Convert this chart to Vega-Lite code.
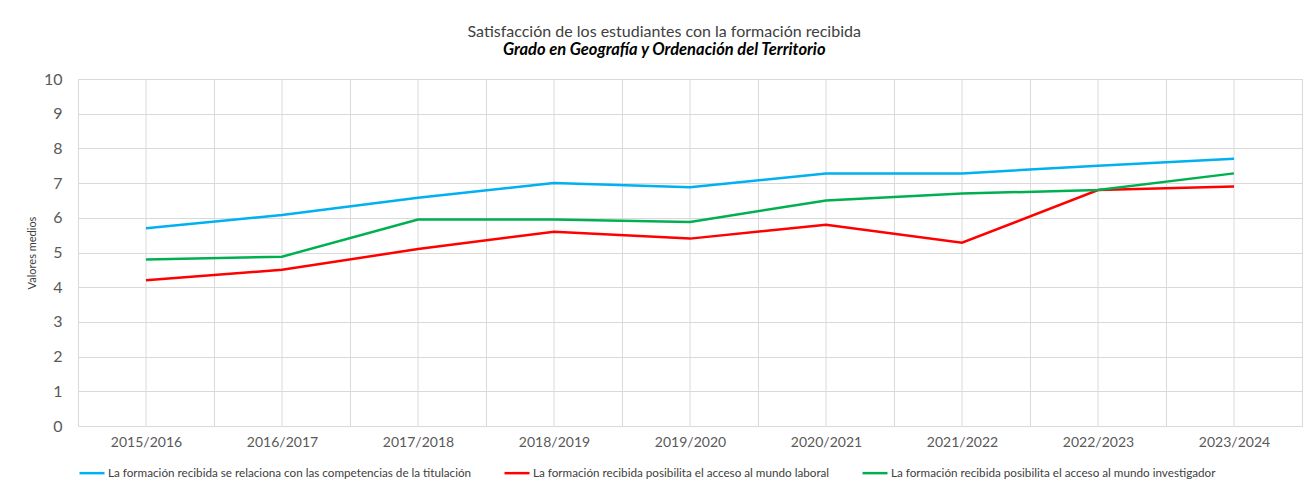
{
  "$schema": "https://vega.github.io/schema/vega-lite/v6.json",
  "autosize": {"type": "none"},
  "width": 1224,
  "height": 347,
  "padding": {"left": 78, "top": 79, "right": 2, "bottom": 58},
  "background": "white",
  "title": {
    "text": "Satisfacción de los estudiantes con la formación recibida",
    "subtitle": "Grado en Geografía y Ordenación del Territorio",
    "anchor": "middle",
    "frame": "bounds",
    "font": "Lato",
    "fontSize": 16,
    "fontWeight": "normal",
    "color": "#404040",
    "subtitleFont": "Lato",
    "subtitleFontSize": 16.5,
    "subtitleFontWeight": "bold",
    "subtitleFontStyle": "italic",
    "subtitleColor": "#000000",
    "subtitlePadding": 2,
    "offset": 13
  },
  "data": {
    "values": [
      {"curso": "2015/2016", "serie": "La formación recibida se relaciona con las competencias de la titulación", "valor": 5.7},
      {"curso": "2016/2017", "serie": "La formación recibida se relaciona con las competencias de la titulación", "valor": 6.08},
      {"curso": "2017/2018", "serie": "La formación recibida se relaciona con las competencias de la titulación", "valor": 6.58},
      {"curso": "2018/2019", "serie": "La formación recibida se relaciona con las competencias de la titulación", "valor": 7.0},
      {"curso": "2019/2020", "serie": "La formación recibida se relaciona con las competencias de la titulación", "valor": 6.88},
      {"curso": "2020/2021", "serie": "La formación recibida se relaciona con las competencias de la titulación", "valor": 7.28},
      {"curso": "2021/2022", "serie": "La formación recibida se relaciona con las competencias de la titulación", "valor": 7.28},
      {"curso": "2022/2023", "serie": "La formación recibida se relaciona con las competencias de la titulación", "valor": 7.5},
      {"curso": "2023/2024", "serie": "La formación recibida se relaciona con las competencias de la titulación", "valor": 7.7},
      {"curso": "2015/2016", "serie": "La formación recibida posibilita el acceso al mundo laboral", "valor": 4.2},
      {"curso": "2016/2017", "serie": "La formación recibida posibilita el acceso al mundo laboral", "valor": 4.5},
      {"curso": "2017/2018", "serie": "La formación recibida posibilita el acceso al mundo laboral", "valor": 5.1},
      {"curso": "2018/2019", "serie": "La formación recibida posibilita el acceso al mundo laboral", "valor": 5.6},
      {"curso": "2019/2020", "serie": "La formación recibida posibilita el acceso al mundo laboral", "valor": 5.4},
      {"curso": "2020/2021", "serie": "La formación recibida posibilita el acceso al mundo laboral", "valor": 5.8},
      {"curso": "2021/2022", "serie": "La formación recibida posibilita el acceso al mundo laboral", "valor": 5.28},
      {"curso": "2022/2023", "serie": "La formación recibida posibilita el acceso al mundo laboral", "valor": 6.8},
      {"curso": "2023/2024", "serie": "La formación recibida posibilita el acceso al mundo laboral", "valor": 6.9},
      {"curso": "2015/2016", "serie": "La formación recibida posibilita el acceso al mundo investigador", "valor": 4.8},
      {"curso": "2016/2017", "serie": "La formación recibida posibilita el acceso al mundo investigador", "valor": 4.88},
      {"curso": "2017/2018", "serie": "La formación recibida posibilita el acceso al mundo investigador", "valor": 5.95},
      {"curso": "2018/2019", "serie": "La formación recibida posibilita el acceso al mundo investigador", "valor": 5.95},
      {"curso": "2019/2020", "serie": "La formación recibida posibilita el acceso al mundo investigador", "valor": 5.88},
      {"curso": "2020/2021", "serie": "La formación recibida posibilita el acceso al mundo investigador", "valor": 6.5},
      {"curso": "2021/2022", "serie": "La formación recibida posibilita el acceso al mundo investigador", "valor": 6.7},
      {"curso": "2022/2023", "serie": "La formación recibida posibilita el acceso al mundo investigador", "valor": 6.8},
      {"curso": "2023/2024", "serie": "La formación recibida posibilita el acceso al mundo investigador", "valor": 7.28}
    ]
  },
  "layer": [
    {
      "transform": [{"filter": "datum.serie === 'La formación recibida posibilita el acceso al mundo laboral'"}],
      "mark": {"type": "rule", "color": "#d9d9d9", "strokeWidth": 1},
      "encoding": {
        "x": {"field": "curso", "type": "ordinal", "bandPosition": 0.5}
      }
    },
    {
      "mark": {"type": "line", "strokeWidth": 2.5},
      "encoding": {
        "x": {"field": "curso", "type": "ordinal", "bandPosition": 0.5},
        "y": {
          "field": "valor",
          "type": "quantitative",
          "scale": {"domain": [0, 10], "nice": false, "zero": true},
          "axis": {
            "title": "Valores medios",
            "titleFont": "Lato",
            "titleFontSize": 11,
            "titleFontWeight": "normal",
            "titleColor": "#404040",
            "titlePadding": 6,
            "values": [0, 1, 2, 3, 4, 5, 6, 7, 8, 9, 10],
            "grid": true,
            "gridColor": "#d9d9d9",
            "ticks": false,
            "domain": false,
            "labelFont": "Lato",
            "labelFontSize": 16,
            "labelColor": "#595959",
            "labelPadding": 16
          }
        },
        "color": {
          "field": "serie",
          "type": "nominal",
          "sort": null,
          "scale": {
            "domain": [
              "La formación recibida se relaciona con las competencias de la titulación",
              "La formación recibida posibilita el acceso al mundo laboral",
              "La formación recibida posibilita el acceso al mundo investigador"
            ],
            "range": ["#00b0f0", "#ff0000", "#00b050"]
          },
          "legend": {
            "title": null,
            "orient": "bottom",
            "direction": "horizontal",
            "symbolType": "stroke",
            "symbolSize": 625,
            "symbolStrokeWidth": 2.5,
            "labelFont": "Lato",
            "labelFontSize": 11.7,
            "labelColor": "#404040",
            "columnPadding": 27,
            "labelOffset": 2,
            "labelLimit": 500,
            "offset": 10
          }
        }
      }
    }
  ],
  "encoding": {
    "x": {
      "field": "curso",
      "type": "ordinal",
      "scale": {"type": "band", "paddingInner": 0, "paddingOuter": 0},
      "axis": {
        "title": null,
        "tickBand": "extent",
        "grid": true,
        "gridColor": "#d9d9d9",
        "ticks": false,
        "domain": false,
        "labelAngle": 0,
        "labelFont": "Lato",
        "labelFontSize": 14,
        "labelColor": "#595959",
        "labelPadding": 9
      }
    }
  },
  "config": {
    "view": {"stroke": null}
  }
}
